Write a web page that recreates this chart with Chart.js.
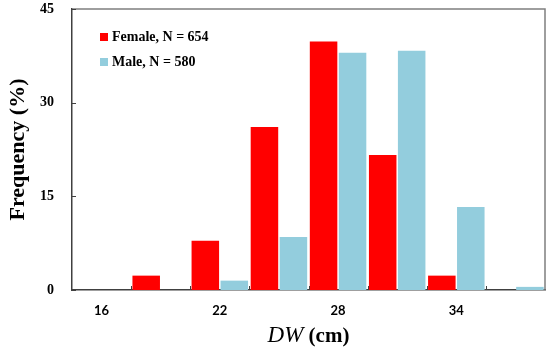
<!DOCTYPE html>
<html>
<head>
<meta charset="utf-8">
<script src="https://cdn.jsdelivr.net/npm/chart.js@4.4.1/dist/chart.umd.min.js"></script>
<style>
  html, body { margin: 0; padding: 0; background: #fff; }
  #wrap { width: 550px; height: 348px; position: relative; }
</style>
</head>
<body>
<div id="wrap"><canvas id="myChart" width="550" height="348"></canvas></div>
<script>
// DW classes (cm)
var dwClasses = ["16", "19", "22", "25", "28", "31", "34", "37"];
var femaleFreq = [0, 2.3, 7.9, 26.1, 39.8, 21.6, 2.3, 0];
var maleFreq = [0, 0, 1.5, 8.5, 38.0, 38.3, 13.3, 0.5];
var seriesNames = ["Female, N = 654", "Male, N = 580"];
var barColors = ["#ff0000", "#93cddd"];
var yTicks = [0, 15, 30, 45];

var serif = "'Liberation Serif', 'DejaVu Serif', serif";

// box, inner tick marks, legend and x title
var extras = {
    id: "extras",
    afterDraw: function(chart){
        var ctx = chart.ctx;
        var a = chart.chartArea;
        var x = chart.scales.x, y = chart.scales.y;
        ctx.save();
        // top and right border
        ctx.strokeStyle = "#7f7f7f";
        ctx.lineWidth = 1.5;
        ctx.beginPath();
        ctx.moveTo(a.left, a.top);
        ctx.lineTo(a.right, a.top);
        ctx.lineTo(a.right, a.bottom);
        ctx.stroke();
        // ticks pointing inward
        ctx.strokeStyle = "#404040";
        ctx.lineWidth = 1;
        ctx.beginPath();
        yTicks.forEach(function(v){
            var py = Math.round(y.getPixelForValue(v)) + 0.5;
            ctx.moveTo(a.left, py);
            ctx.lineTo(a.left + 4, py);
        });
        for(var i = 0; i < dwClasses.length - 1; i++){
            var px = Math.round((x.getPixelForTick(i) + x.getPixelForTick(i + 1)) / 2) + 0.5;
            ctx.moveTo(px, a.bottom);
            ctx.lineTo(px, a.bottom - 4);
        }
        ctx.stroke();
        // legend
        ctx.font = "bold 14px " + serif;
        ctx.textBaseline = "middle";
        ctx.textAlign = "left";
        chart.data.datasets.forEach(function(ds, i){
            var ly = 37 + i * 25;
            ctx.fillStyle = ds.backgroundColor;
            ctx.fillRect(100, ly - 4, 8, 8);
            ctx.fillStyle = "#000";
            ctx.fillText(ds.label, 112, ly);
        });
        // x axis title: italic DW + bold (cm)
        var p1 = "DW", p2 = " (cm)";
        var f1 = "italic 23px " + serif, f2 = "bold 21px " + serif;
        ctx.font = f1; var w1 = ctx.measureText(p1).width;
        ctx.font = f2; var w2 = ctx.measureText(p2).width;
        var sx = (a.left + a.right) / 2 - (w1 + w2) / 2;
        ctx.fillStyle = "#000";
        ctx.textBaseline = "alphabetic";
        ctx.font = f1; ctx.fillText(p1, sx, 342);
        ctx.font = f2; ctx.fillText(p2, sx + w1, 342);
        ctx.restore();
    }
};

new Chart("myChart", {
    type: "bar",
    data: {
        labels: dwClasses,
        datasets: [{
            label: seriesNames[0],
            data: femaleFreq,
            backgroundColor: barColors[0],
            categoryPercentage: 0.98,
            barPercentage: 0.95
        }, {
            label: seriesNames[1],
            data: maleFreq,
            backgroundColor: barColors[1],
            categoryPercentage: 0.98,
            barPercentage: 0.95
        }]
    },
    options: {
        responsive: false,
        animation: false,
        layout: { padding: { left: 0, top: 9, right: 5, bottom: 0 } },
        plugins: {
            legend: { display: false },
            tooltip: { enabled: false }
        },
        scales: {
            x: {
                offset: true,
                grid: { display: false },
                border: { color: "#404040", width: 1.5 },
                ticks: {
                    autoSkip: false,
                    maxRotation: 0,
                    padding: 5,
                    color: "#000",
                    font: { family: "Lato, 'Open Sans', sans-serif", weight: "bold", size: 13 },
                    callback: function(v, i){ return i % 2 == 0 ? dwClasses[i] : ""; }
                },
                afterFit: function(s){ s.height = 58; }
            },
            y: {
                min: 0,
                max: 45,
                afterBuildTicks: function(s){ s.ticks = yTicks.map(function(v){ return { value: v }; }); },
                grid: { display: false },
                border: { color: "#404040", width: 1.5 },
                ticks: {
                    padding: 10,
                    color: "#000",
                    font: { family: serif, weight: "bold", size: 14 }
                },
                title: {
                    display: true,
                    text: "Frequency (%)",
                    color: "#000",
                    padding: { top: 5, bottom: 0 },
                    font: { family: serif, weight: "bold", size: 22 }
                },
                afterFit: function(s){
                    s.width = 72;
                    s.paddingTop = 0;
                    s.paddingBottom = 0;
                }
            }
        }
    },
    plugins: [extras]
});
</script>
</body>
</html>
